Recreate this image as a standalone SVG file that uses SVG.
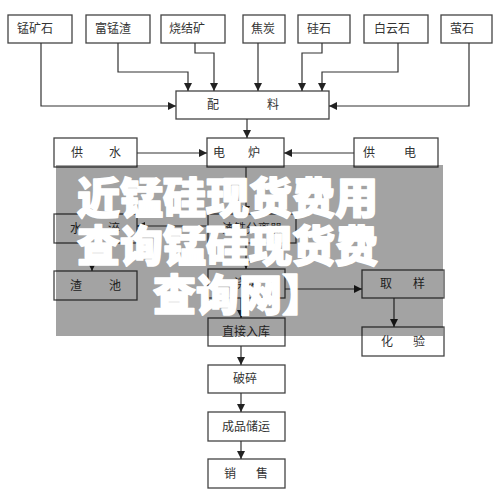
<svg xmlns="http://www.w3.org/2000/svg" width="500" height="502" viewBox="0 0 500 502">
<defs>
<marker id="ah" markerUnits="userSpaceOnUse" markerWidth="8" markerHeight="8" refX="8" refY="4" orient="auto">
<path d="M0,0 L8,4 L0,8 z" fill="#222"/>
</marker>
<style>
.b{fill:#fff;stroke:#444;stroke-width:1.3}
.t{font-family:"Noto Sans CJK SC","Noto Sans",sans-serif;font-size:12px;fill:#333}
.c{fill:none;stroke:#333;stroke-width:1.2;marker-end:url(#ah)}
.ov{font-family:"Noto Sans CJK SC","Noto Sans",sans-serif;font-size:43px;font-weight:900;fill:#fff;stroke:#fff;stroke-width:1.7;stroke-linejoin:round}
</style>
</defs>
<rect width="500" height="502" fill="#fff"/>
<g id="n-mengkuangshi"><rect class="b" x="8" y="15" width="64" height="28"/><text class="t" x="17" y="33">锰矿石</text></g>
<g id="n-fumengzha"><rect class="b" x="86" y="15" width="64" height="28"/><text class="t" x="95" y="33">富锰渣</text></g>
<g id="n-shaojiekuang"><rect class="b" x="161" y="15" width="64" height="28"/><text class="t" x="169" y="33">烧结矿</text></g>
<g id="n-jiaotan"><rect class="b" x="243" y="15" width="42" height="28"/><text class="t" x="251" y="33">焦炭</text></g>
<g id="n-guishi"><rect class="b" x="298" y="15" width="52" height="28"/><text class="t" x="307" y="33">硅石</text></g>
<g id="n-baiyunshi"><rect class="b" x="364" y="15" width="64" height="28"/><text class="t" x="374" y="33">白云石</text></g>
<g id="n-yingshi"><rect class="b" x="441" y="15" width="51" height="28"/><text class="t" x="450" y="33">萤石</text></g>
<g id="n-peiliao"><rect class="b" x="176" y="91" width="153" height="28"/><text class="t" y="109"><tspan x="207">配</tspan><tspan x="267">料</tspan></text></g>
<g id="n-gongshui"><rect class="b" x="54" y="138" width="83" height="29"/><text class="t" y="157"><tspan x="71">供</tspan><tspan x="109">水</tspan></text></g>
<g id="n-dianlu"><rect class="b" x="207" y="138" width="77" height="29"/><text class="t" y="157"><tspan x="213">电</tspan><tspan x="248">炉</tspan></text></g>
<g id="n-gongdian"><rect class="b" x="354" y="138" width="84" height="29"/><text class="t" y="157"><tspan x="363">供</tspan><tspan x="404">电</tspan></text></g>
<g id="n-shuicui"><rect class="b" x="54" y="214" width="83" height="29"/><text class="t" y="233"><tspan x="70">水</tspan><tspan x="108">淬</tspan></text></g>
<g id="n-zhatiefenliqi"><rect class="b" x="208" y="214" width="88" height="29"/><text class="t" x="222" y="233">渣铁分离器</text></g>
<g id="n-zhachi"><rect class="b" x="54" y="271" width="83" height="29"/><text class="t" y="290"><tspan x="70">渣</tspan><tspan x="109">池</tspan></text></g>
<g id="n-jiaozhu"><rect class="b" x="208" y="269" width="77" height="29"/><text class="t" x="234" y="288">浇铸</text></g>
<g id="n-quyang"><rect class="b" x="362" y="270" width="82" height="28"/><text class="t" y="288"><tspan x="380">取</tspan><tspan x="413">样</tspan></text></g>
<g id="n-huayan"><rect class="b" x="362" y="327" width="82" height="29"/><text class="t" y="346"><tspan x="381">化</tspan><tspan x="413">验</tspan></text></g>
<g id="n-zhijierku"><rect class="b" x="208" y="318" width="77" height="28"/><text class="t" x="222" y="336">直接入库</text></g>
<g id="n-posui"><rect class="b" x="208" y="365" width="77" height="28"/><text class="t" x="233" y="383">破碎</text></g>
<g id="n-chengpinchuyun"><rect class="b" x="208" y="412" width="77" height="29"/><text class="t" x="222" y="431">成品储运</text></g>
<g id="n-xiaoshou"><rect class="b" x="208" y="459" width="77" height="29"/><text class="t" y="478"><tspan x="224">销</tspan><tspan x="256">售</tspan></text></g>
<g id="connectors">
<path class="c" d="M41,43 V106 H176"/>
<path class="c" d="M118,43 V72 H188 V91"/>
<path class="c" d="M195,43 V53 H214 V91"/>
<path class="c" d="M258,43 V91"/>
<path class="c" d="M322,43 V53 H302 V91"/>
<path class="c" d="M398,43 V72 H322 V91"/>
<path class="c" d="M469,43 V106 H329"/>
<path class="c" d="M247,119 V138"/>
<path class="c" d="M137,153 H207"/>
<path class="c" d="M354,153 H284"/>
<path class="c" d="M246,167 V214"/>
<path class="c" d="M208,226 H137"/>
<path class="c" d="M92,243 V271"/>
<path class="c" d="M246,243 V269"/>
<path class="c" d="M285,289 H362"/>
<path class="c" d="M394,298 V327"/>
<path class="c" d="M241,298 V318"/>
<path class="c" d="M241,346 V365"/>
<path class="c" d="M241,393 V412"/>
<path class="c" d="M241,441 V459"/>
</g>
<g id="overlay">
<rect x="56" y="165" width="387" height="171" fill="#000" fill-opacity="0.36"/>
<text class="ov" x="77" y="214">近锰硅现货费用</text>
<text class="ov" x="77" y="262">查询锰硅现货费</text>
<text class="ov" x="153" y="311">查询网】</text>
</g>
</svg>
